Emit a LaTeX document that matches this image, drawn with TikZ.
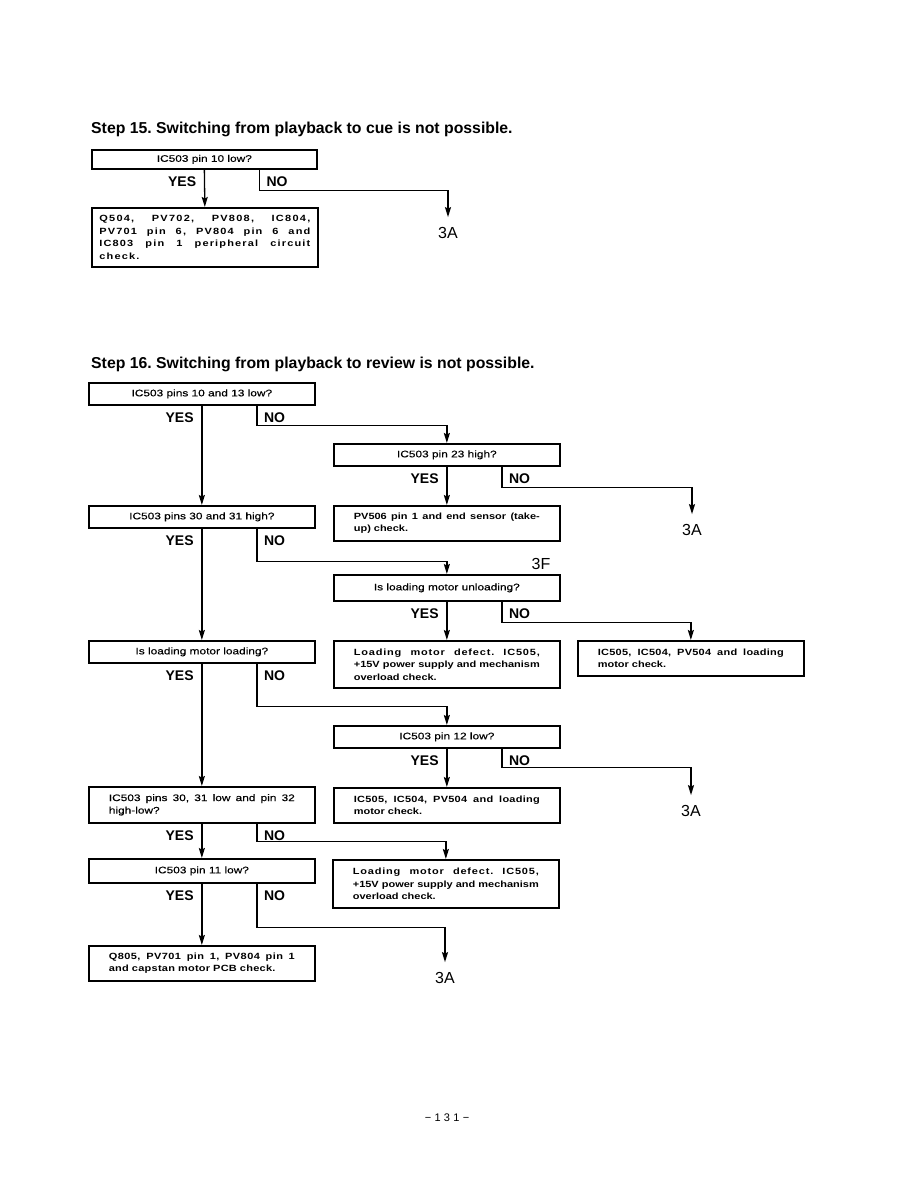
\documentclass[tikz,border=0pt]{standalone}
\usepackage{fontspec}
\setmainfont{Liberation Sans}
\newfontfamily\qfont[FakeStretch=1.25, FakeBold=0.4]{Liberation Sans}
\newfontfamily\cfont[FakeStretch=1.22]{Liberation Sans}
\usetikzlibrary{arrows.meta}
\frenchspacing
% one full-width line, optional letter tracking
\newcommand{\spread}[2][0]{\makebox[\hsize][s]{\addfontfeature{LetterSpace=#1}%
  \spaceskip=\fontdimen2\font plus 1fil minus \fontdimen4\font\relax
  \xspaceskip=\spaceskip #2}}

\tikzset{
  qbox/.style={draw, line width=1.7pt, anchor=north west, minimum width=226pt,
    minimum height=22pt, inner sep=0pt, font=\qfont\fontsize{9.5}{12}\selectfont},
  cbox/.style={draw, line width=1.7pt, anchor=north west, minimum width=226pt,
    inner xsep=20pt, inner ysep=3pt, text width=186pt, align=left,
    font=\cfont\bfseries\fontsize{9}{12.5}\selectfont},
  yn/.style={inner sep=0pt, font=\bfseries\fontsize{14}{14}\selectfont},
  goto/.style={inner sep=0pt, font=\fontsize{16}{16}\selectfont},
  heading/.style={anchor=base west, inner sep=0pt, font=\bfseries\fontsize{15.8}{18}\selectfont},
  flow/.style={line width=1.3pt, -{Stealth[length=10pt, width=6pt, inset=1.5pt]}}
}

\begin{document}
\begin{tikzpicture}[x=1pt, y=1pt]
    \useasboundingbox (0,0) rectangle (918,-1188);

    % Step 15
    \node[heading] (title15) at (91,-134) {Step 15. Switching from playback to cue is not possible.};
    \node[qbox, minimum width=225pt, minimum height=19pt] (q15) at (91,-149) {IC503 pin 10 low?};
    \node[cbox, minimum height=59pt, text width=211pt, inner xsep=7pt] (c15) at (91,-207)
        {\spread[14]{Q504, PV702, PV808, IC804,}\\ \spread[13]{PV701 pin 6, PV804 pin 6 and}\\
         \spread[13]{IC803 pin 1 peripheral circuit}\\ \addfontfeature{LetterSpace=13}check.};
    \node[goto] (a15) at (448,-233) {3A};

    % Step 16
    \node[heading] (title16) at (91,-368) {Step 16. Switching from playback to review is not possible.};
    \node[qbox] (pin1013) at (88,-382) {IC503 pins 10 and 13 low?};
    \node[qbox] (pin23) at (333,-443) {IC503 pin 23 high?};
    \node[cbox, minimum height=35pt] (sensor) at (333,-505)
        {\spread{PV506 pin 1 and end sensor (take-}\\ up) check.};
    \node[qbox] (pin3031) at (88,-505) {IC503 pins 30 and 31 high?};
    \node[qbox, minimum height=26pt] (unload) at (333,-574) {Is loading motor unloading?};
    \node[cbox, minimum height=47pt] (defA) at (333,-640)
        {\spread[9]{Loading motor defect. IC505,}\\ \spread{+15V power supply and mechanism}\\ overload check.};
    \node[cbox, minimum height=35pt] (chkA) at (577,-640)
        {\spread[3]{IC505, IC504, PV504 and loading}\\ motor check.};
    \node[qbox] (load) at (88,-640) {Is loading motor loading?};
    \node[qbox] (pin12) at (333,-725) {IC503 pin 12 low?};
    \node[cbox, minimum height=35pt] (chkB) at (333,-787)
        {\spread[3]{IC505, IC504, PV504 and loading}\\ motor check.};
    \node[cbox, minimum height=36pt, font=\qfont\fontsize{9.5}{12.5}\selectfont] (pin32) at (88,-786)
        {\spread{IC503 pins 30, 31 low and pin 32}\\ high-low?};
    \node[qbox, minimum height=24pt] (pin11) at (88,-858) {IC503 pin 11 low?};
    \node[cbox, minimum height=48pt] (defB) at (332,-859)
        {\spread[9]{Loading motor defect. IC505,}\\ \spread{+15V power supply and mechanism}\\ overload check.};
    \node[cbox, minimum height=35pt] (capstan) at (88,-945)
        {\spread[5]{Q805, PV701 pin 1, PV804 pin 1}\\ \addfontfeature{LetterSpace=3}and capstan motor PCB check.};

    % Jump labels
    \node[goto] (goA1) at (692,-530) {3A};
    \node[goto] (goF) at (541,-564) {3F};
    \node[goto] (goA2) at (691,-811) {3A};
    \node[goto] (goA3) at (445,-978) {3A};

    % YES / NO labels
    \foreach \b in {q15, pin1013, pin23, pin3031, unload, load, pin12, pin32, pin11} {
        \node[yn, anchor=east] (yes-\b) at ([xshift=-8pt, yshift=-11.5pt]\b.south) {YES};
        \node[yn, anchor=west] (no-\b) at ([xshift=62pt, yshift=-11.5pt]\b.south) {NO};
    }

    % YES arrows
    \draw[flow] (q15.south) -- (c15.north);
    \draw[flow] (pin1013.south) -- (pin3031.north);
    \draw[flow] (pin23.south) -- (sensor.north);
    \draw[flow] (pin3031.south) -- (load.north);
    \draw[flow] (unload.south) -- (defA.north);
    \draw[flow] (load.south) -- (pin32.north);
    \draw[flow] (pin12.south) -- (chkB.north);
    \draw[flow] (pin32.south) -- (pin11.north);
    \draw[flow] (pin11.south) -- (capstan.north);

    % NO arrows
    \draw[flow, shorten >=10pt] ([xshift=55pt]q15.south) -- ++(0,-21) -| (a15.north);
    \draw[flow] ([xshift=55pt]pin1013.south) -- ++(0,-20) -| (pin23.north);
    \draw[flow, shorten >=10pt] ([xshift=55pt]pin23.south) -- ++(0,-21) -| (goA1.north);
    \draw[flow] ([xshift=55pt]pin3031.south) -- ++(0,-33) -| (unload.north);
    \draw[flow] ([xshift=55pt]unload.south) -- ++(0,-21) -| (chkA.north);
    \draw[flow] ([xshift=55pt]load.south) -- ++(0,-43) -| (pin12.north);
    \draw[flow, shorten >=10pt] ([xshift=55pt]pin12.south) -- ++(0,-19) -| (goA2.north);
    \draw[flow] ([xshift=55pt]pin32.south) -- ++(0,-18) -| (defB.north);
    \draw[flow, shorten >=10pt] ([xshift=55pt]pin11.south) -- ++(0,-44) -| (goA3.north);

    % Page number
    \node[font=\fontsize{11}{11}\selectfont\addfontfeature{LetterSpace=30}] (page) at (447,-1118) {−131−};
\end{tikzpicture}
\end{document}
